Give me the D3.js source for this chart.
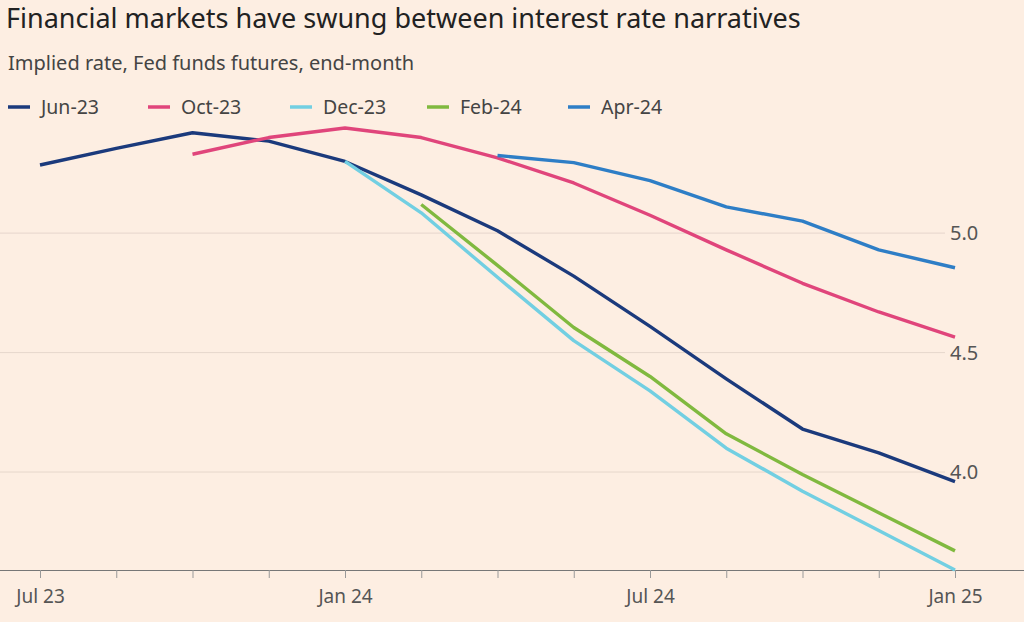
<html>
<body style="margin:0;background:#fdeee2">
<svg class="chart"></svg>
</body>
<script src="https://d3js.org/d3.v7.min.js"></script>
<script>
  // FOMC meeting months, evenly spaced on the axis
  var meetings = ["Jul 23","Sep 23","Nov 23","Dec 23","Jan 24","Mar 24","May 24","Jun 24","Jul 24","Sep 24","Nov 24","Dec 24","Jan 25"];
  var xLabels = ["Jul 23","Jan 24","Jul 24","Jan 25"];
  var yTicks = [4.0, 4.5, 5.0];

  var jun23 = [5.285,5.355,5.42,5.385,5.30,5.16,5.01,4.82,4.61,4.39,4.18,4.08,3.96];
  var oct23 = [null,null,5.33,5.40,5.44,5.40,5.315,5.21,5.075,4.93,4.79,4.67,4.565];
  var dec23 = [null,null,null,null,5.30,5.085,4.815,4.55,4.34,4.10,3.92,3.755,3.59];
  var feb24 = [null,null,null,null,null,5.12,4.865,4.605,4.40,4.16,3.99,3.83,3.67];
  var apr24 = [null,null,null,null,null,null,5.325,5.295,5.22,5.11,5.05,4.93,4.855];

  var series = [
    {name: "Jun-23", values: jun23, color: "#1b3a7c"},
    {name: "Oct-23", values: oct23, color: "#e0457b"},
    {name: "Dec-23", values: dec23, color: "#72cfe2"},
    {name: "Feb-24", values: feb24, color: "#80b93f"},
    {name: "Apr-24", values: apr24, color: "#2e7ec6"}
  ];

  var width = 1024, height = 622;
  var font = "'Noto Sans', sans-serif";

  var x = d3.scalePoint().domain(meetings).range([40, 955]);
  var y = d3.scaleLinear().domain([3.59, 5.44]).range([570, 128]);

  var chart = d3.select(".chart").attr("width", width).attr("height", height)
    .style("font-family", font);

  chart.append("text").attr("x", 6).attr("y", 28).attr("font-size", 27).attr("fill", "#222")
    .text("Financial markets have swung between interest rate narratives");
  chart.append("text").attr("x", 8).attr("y", 70).attr("font-size", 20).attr("fill", "#444")
    .text("Implied rate, Fed funds futures, end-month");

  // legend
  var legend = chart.selectAll(".legend").data(series).enter().append("g")
    .attr("transform", function(d, i) { return "translate(" + [8, 148, 290, 427, 568][i] + ",107)"; });
  legend.append("line").attr("x1", 0).attr("x2", 22).attr("stroke", function(d) { return d.color; })
    .attr("stroke-width", 3.5);
  legend.append("text").attr("x", 33).attr("y", 7).attr("font-size", 19.5).attr("fill", "#444")
    .text(function(d) { return d.name; });

  // grid
  chart.selectAll(".grid").data(yTicks).enter().append("line")
    .attr("x1", 0).attr("x2", 945).attr("y1", function(d) { return y(d); }).attr("y2", function(d) { return y(d); })
    .attr("stroke", "#e6d7cc");
  chart.selectAll(".ylab").data(yTicks).enter().append("text")
    .attr("x", 950).attr("y", function(d) { return y(d) + 7; }).attr("font-size", 20).attr("fill", "#555")
    .text(function(d) { return d.toFixed(1); });

  // x axis
  var xAxis = chart.append("g").attr("transform", "translate(0,570)")
    .call(d3.axisBottom(x).tickSize(8).tickFormat(function(d) { return xLabels.indexOf(d) >= 0 ? d : ""; }));
  xAxis.select(".domain").attr("stroke", "#777").attr("d", "M0,0.5H1024");
  xAxis.selectAll(".tick line").attr("stroke", "#999");
  xAxis.selectAll(".tick text").attr("font-size", 19).attr("fill", "#555").attr("font-family", font).attr("dy", "1.15em");

  var line = d3.line()
    .defined(function(d) { return d != null; })
    .x(function(d, i) { return x(meetings[i]); })
    .y(function(d) { return y(d); });

  chart.selectAll(".series").data(series).enter().append("path")
    .attr("fill", "none").attr("stroke", function(d) { return d.color; })
    .attr("stroke-width", 3.4).attr("stroke-linejoin", "round")
    .attr("d", function(d) { return line(d.values); });
</script>
</html>
